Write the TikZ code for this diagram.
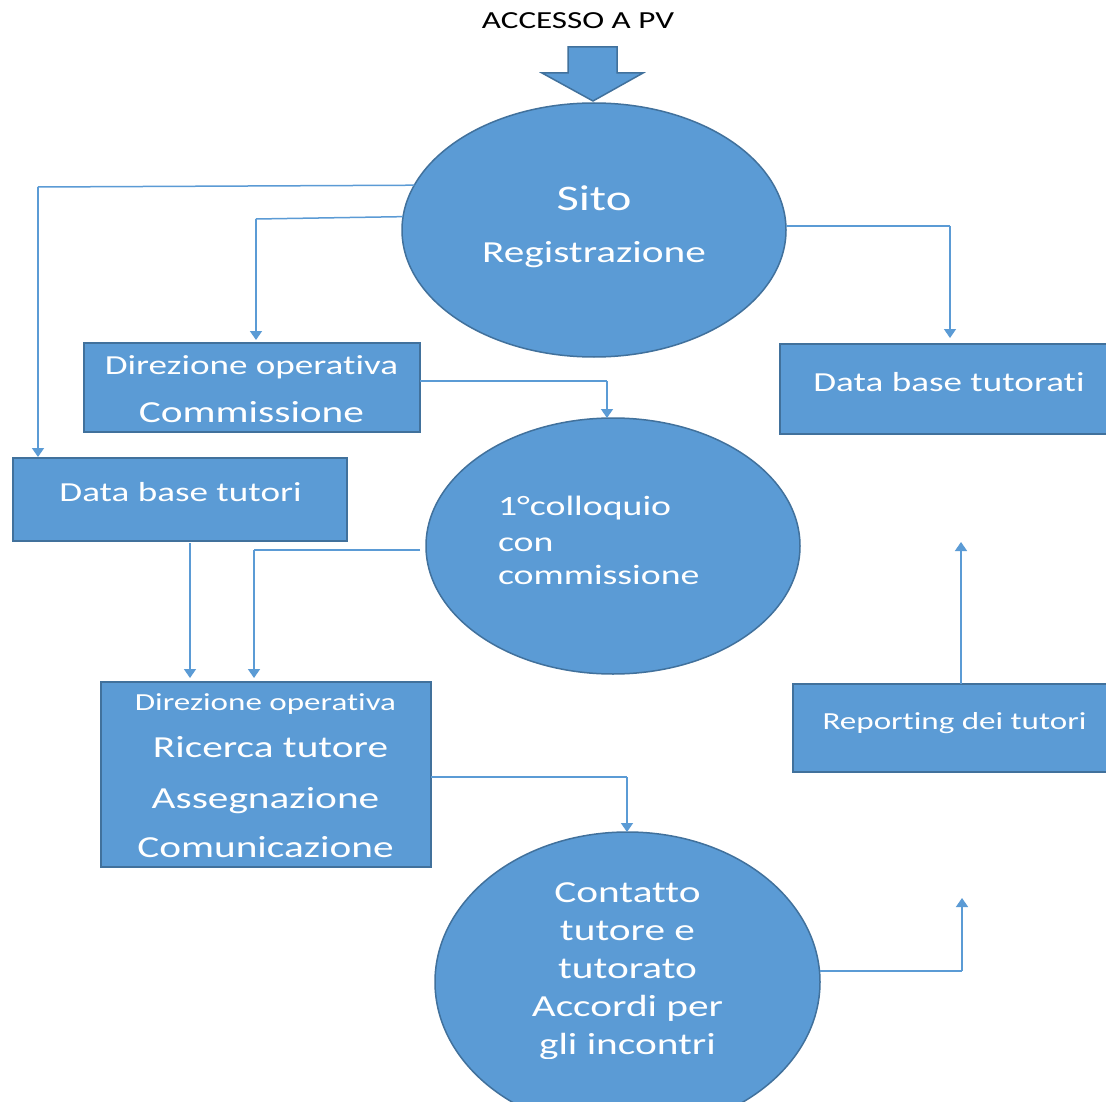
\documentclass[tikz,border=0pt]{standalone}
\usepackage{fontspec}
\setmainfont{Carlito}[FakeStretch=1.35, Ligatures={NoCommon,NoContextual,NoRequired}, Contextuals=NoAlternate]
\usetikzlibrary{shapes.geometric,arrows.meta}
\definecolor{bfill}{HTML}{5B9BD5}
\definecolor{bline}{HTML}{41719C}
\tikzset{
  shp/.style={fill=bfill, draw=bline, line width=1.5pt, inner sep=0pt, outer sep=0pt},
  ell/.style={shp, ellipse},
  boxs/.style={shp, rectangle},
  conn/.style={draw=bfill, line width=1.5pt},
  arr/.style={conn, -{Triangle[width=12pt,length=9pt]}},
  txt/.style={text=white, inner sep=0pt, outer sep=0pt, text depth=0pt},
  fXL/.style={font=\fontsize{36}{40}\selectfont, text height=23.2pt},
  fL/.style={font=\fontsize{30.6}{36}\selectfont, text height=19.7pt},
  fM/.style={font=\fontsize{27.5}{32}\selectfont, text height=17.7pt},
  fS/.style={font=\fontsize{24.5}{28}\selectfont, text height=15.8pt},
  fC/.style={font=\fontsize{28}{32}\selectfont, text height=18pt},
}
\begin{document}
\begin{tikzpicture}[x=1pt,y=-1pt]
\clip (0,0) rectangle (1106,1102);
\fill[white] (0,0) rectangle (1106,1102);

% title and block arrow
\node[inner sep=0pt, text depth=0pt, fS] (acc) at (578,20.5) {ACCESSO A PV};
\draw[shp] (568,47) -- (617,47) -- (617,73) -- (643,73) -- (593,101) -- (542,73) -- (568,73) -- cycle;

% shapes
\node[ell, minimum width=384pt, minimum height=254pt] (e1) at (594,230) {};
\node[boxs, minimum width=336pt, minimum height=89pt] (dir1) at (252,387.5) {};
\node[boxs, minimum width=350pt, minimum height=90pt] (dbta) at (955,389) {};
\node[boxs, minimum width=334pt, minimum height=83pt] (dbt) at (180,499.5) {};
\node[ell, minimum width=374pt, minimum height=256pt] (e2) at (613,546) {};
\node[boxs, minimum width=330pt, minimum height=185pt] (dir2) at (266,774.5) {};
\node[boxs, minimum width=337pt, minimum height=88pt] (rep) at (961.5,728) {};
\node[ell, minimum width=385pt, minimum height=300pt] (e3) at (627.5,982) {};

% texts
\node[txt, fXL] (t1a) at (594,199) {Sito};
\node[txt, fL] (t1b) at (594,253) {Registrazione};
\node[txt, fM] (t2a) at (251.5,365.5) {Direzione operativa};
\node[txt, fL] (t2b) at (251.5,413) {Commissione};
\node[txt, fM] (t3) at (949,382.5) {Data base tutorati};
\node[txt, fM] (t4) at (180.5,492.5) {Data base tutori};
\node[txt, fC, anchor=west] (t5a) at (498,506) {1°colloquio};
\node[txt, fC, anchor=west] (t5b) at (498,542) {con};
\node[txt, fC, anchor=west] (t5c) at (498,575) {commissione};
\node[txt, fS] (t6a) at (265.5,703) {Direzione operativa};
\node[txt, fL] (t6b) at (270.5,747.5) {Ricerca tutore};
\node[txt, fL] (t6c) at (265.5,798.5) {Assegnazione};
\node[txt, fL] (t6d) at (265.5,847.5) {Comunicazione};
\node[txt, fS] (t7) at (954.5,721.5) {Reporting dei tutori};
\begin{scope}
\clip (400,850) rectangle (860,1058);
\node[txt, fL] (t8a) at (627.5,893) {Contatto};
\node[txt, fL] (t8b) at (627.5,931) {tutore e};
\node[txt, fL] (t8c) at (627.5,969) {tutorato};
\node[txt, fL] (t8d) at (627.5,1007) {Accordi per};
\node[txt, fL] (t8e) at (627.5,1045) {gli incontri};
\end{scope}

% connector corners
\coordinate (c1) at (38,187);
\coordinate (c2) at (256,219);
\coordinate (c3) at (607,381);
\coordinate (c4) at (950,226);
\coordinate (c5) at (190,0);
\coordinate (c6) at (254,550);
\coordinate (c7) at (627,777);
\coordinate (c8) at (961,542);
\coordinate (c9) at (962,971);
\coordinate (c9b) at (962,898);

% connectors
\draw[conn] (e1.166) -- (c1);
\draw[arr, shorten >=1pt] (c1) -- (dbt.north -| c1);
\draw[conn] (e1.176.7) -- (c2);
\draw[arr, shorten >=3pt] (c2) -- (dir1.north -| c2);
\draw[conn] (dir1.east |- c3) -- (c3);
\draw[arr] (c3) -- (c3 |- e2.north);
\draw[conn] (e1.east |- c4) -- (c4);
\draw[arr, shorten >=6pt] (c4) -- (dbta.north -| c4);
\draw[arr, shorten >=4pt, shorten <=2pt] (dbt.south -| c5) -- (dir2.north -| c5);
\draw[conn] (e2.west |- c6) ++(-6,0) -- (c6);
\draw[arr, shorten >=4pt] (c6) -- (dir2.north -| c6);
\draw[conn] (dir2.east |- c7) -- (c7);
\draw[arr] (c7) -- (c7 |- e3.north);
\draw[arr] (rep.north -| c8) -- (c8);
\draw[conn] (e3.east |- c9) -- (c9);
\draw[arr] (c9) -- (c9b);
\end{tikzpicture}
\end{document}
